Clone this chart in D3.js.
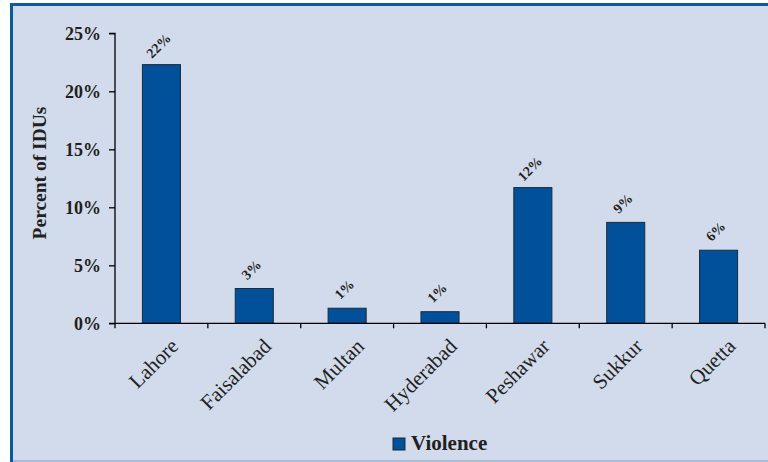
<!DOCTYPE html>
<html><head><meta charset="utf-8">
<script src="https://cdn.jsdelivr.net/npm/d3@7"></script>
<style>html,body{margin:0;padding:0;background:#fff;}svg{display:block;}</style>
</head><body>
<svg id="chart" width="768" height="462"></svg>
<script>
const categories = ["Lahore","Faisalabad","Multan","Hyderabad","Peshawar","Sukkur","Quetta"];
const violence = [22.3, 3.0, 1.3, 1.0, 11.7, 8.7, 6.3];
const valueLabels = ["22%","3%","1%","1%","12%","9%","6%"];
const yTicks = [0,5,10,15,20,25];
const seriesName = "Violence";

const svg = d3.select("#chart");
const W = 768, H = 462;
const font = "'Liberation Serif', 'DejaVu Serif', serif";
const blue = "#00509a";

// frame
svg.append("rect").attr("x",10).attr("y",3).attr("width",W-10).attr("height",H-3).attr("fill","#d1dbec");
svg.append("rect").attr("x",10).attr("y",3).attr("width",3).attr("height",H-3).attr("fill","#0b5aa0");
svg.append("rect").attr("x",10).attr("y",3).attr("width",W-10).attr("height",3).attr("fill","#0b5aa0");
svg.append("rect").attr("x",13).attr("y",460).attr("width",W-13).attr("height",2).attr("fill","#a9bdd9");

const x0 = 115, x1 = 765, yTop = 33.3, yBot = 323.3;
const x = d3.scaleBand().domain(categories).range([x0,x1]).paddingInner(0.59).paddingOuter(0.295);
const y = d3.scaleLinear().domain([0,25]).range([yBot,yTop]);

// bars
svg.append("g").selectAll("rect").data(categories).join("rect")
  .attr("x", d=>x(d)).attr("width", x.bandwidth())
  .attr("y", (d,i)=>y(violence[i])).attr("height",(d,i)=>yBot-y(violence[i]))
  .attr("fill", blue).attr("stroke","#1d2b3a").attr("stroke-width",1);

// y axis
const yAxis = d3.axisLeft(y).tickValues(yTicks).tickFormat(d=>d+"%").tickSize(6).tickPadding(8);
const gy = svg.append("g").attr("transform",`translate(${x0},0)`).call(yAxis);
gy.select(".domain").attr("stroke","#000").attr("stroke-width",1.3).attr("d",`M-6,${yTop}H0V${yBot}H-6`);
gy.selectAll(".tick line").attr("stroke","#000").attr("stroke-width",1.3);
gy.selectAll("text").attr("font-family",font).attr("font-weight","bold").attr("font-size",18).attr("fill","#231f20");

// x axis with ticks at band boundaries
const bounds = d3.range(categories.length+1).map(i=>x0+i*(x1-x0)/categories.length);
const gx = svg.append("g");
gx.append("line").attr("x1",x0).attr("x2",x1).attr("y1",yBot).attr("y2",yBot).attr("stroke","#000").attr("stroke-width",1.3);
gx.selectAll("line.t").data(bounds).join("line").attr("class","t")
  .attr("x1",d=>d).attr("x2",d=>d).attr("y1",yBot).attr("y2",yBot+5).attr("stroke","#000").attr("stroke-width",1.3);
gx.selectAll("text").data(categories).join("text")
  .attr("transform", d=>`translate(${x(d)+x.bandwidth()/2+13},${yBot+19}) rotate(-45)`)
  .attr("text-anchor","end").attr("dy","0.35em")
  .attr("font-family",font).attr("font-size",21).attr("fill","#231f20")
  .text(d=>d);

// value labels
svg.append("g").selectAll("text").data(categories).join("text")
  .attr("transform",(d,i)=>`translate(${x(d)+x.bandwidth()/2-3},${y(violence[i])-19}) rotate(-45)`)
  .attr("text-anchor","middle").attr("dy","0.35em")
  .attr("font-family",font).attr("font-weight","bold").attr("font-size",14).attr("fill","#231f20")
  .text((d,i)=>valueLabels[i]);

// y label
svg.append("text").attr("transform","translate(46,173) rotate(-90)")
  .attr("text-anchor","middle").attr("font-family",font).attr("font-weight","bold").attr("font-size",19.5)
  .attr("fill","#231f20").text("Percent of IDUs");

// legend
svg.append("rect").attr("x",393).attr("y",438).attr("width",12).attr("height",12).attr("fill",blue).attr("stroke","#1d2b3a").attr("stroke-width",1);
svg.append("text").attr("x",411).attr("y",450).attr("font-family",font).attr("font-weight","bold").attr("font-size",21)
  .attr("fill","#231f20").text(seriesName);
</script>
</body></html>
